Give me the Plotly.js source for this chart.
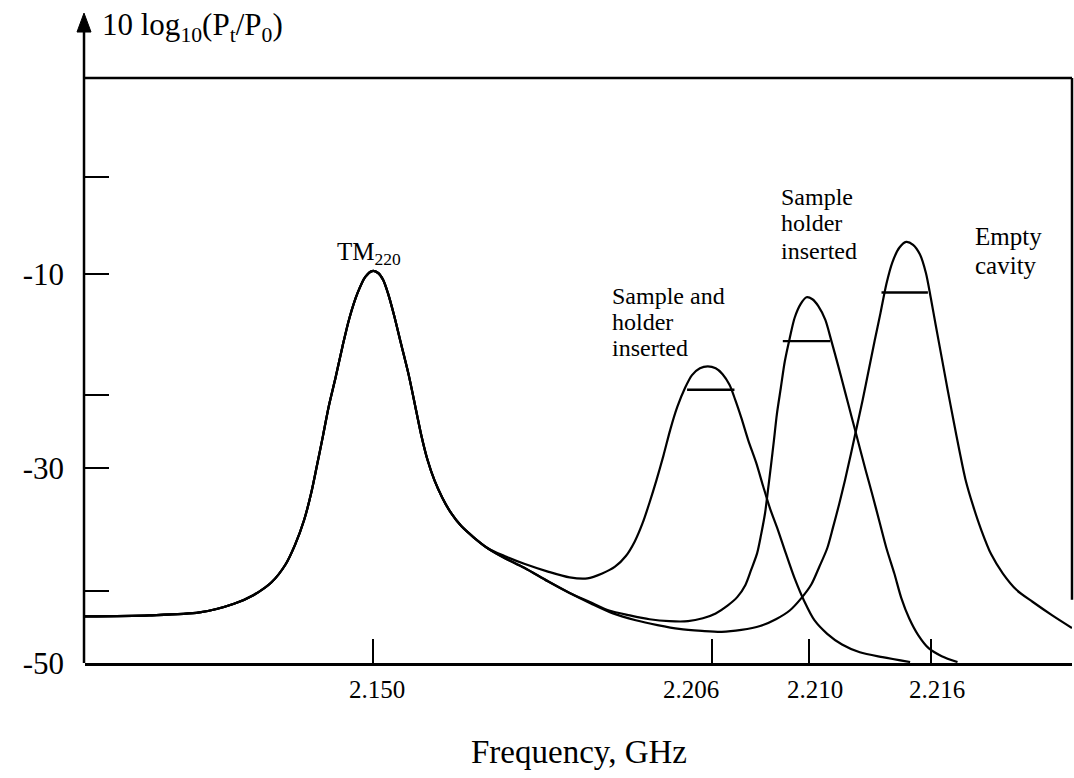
<!DOCTYPE html>
<html>
<head>
<meta charset="utf-8">
<script src="https://cdn.plot.ly/plotly-3.0.1.min.js"></script>
<style>
  html, body { margin: 0; padding: 0; background: #fff; }
  #chart { width: 1074px; height: 778px; }
</style>
</head>
<body>
<div id="chart"></div>
<script>
// Transmitted power, 10 log10(Pt/P0) in dB, against a schematic frequency scale (0-100).
// The TM220 mode is common to all three sweeps; each sweep then runs into its own resonance.
const tmX = [0, 6.5, 11.6, 15.1, 17.1, 18.9, 20.3, 21.3, 22.2, 22.9, 23.5, 24.1, 24.7, 25.4, 26.1,
             26.8, 27.6, 28.4, 29.1, 29.7, 30.2, 30.7, 31.3, 32.0, 32.8, 33.5, 34.1, 34.7, 35.4, 36.2,
             37.1, 38.1, 39.4, 40.8];
const tmY = [-45.2, -45.1, -44.8, -43.9, -43.0, -41.7, -39.9, -37.8, -35.3, -32.6, -29.7, -26.7, -23.6, -20.6, -17.4,
             -14.5, -12.0, -10.3, -9.7, -9.9, -10.6, -12.0, -14.2, -17.1, -20.4, -23.8, -26.7, -29.1, -31.2, -33.0,
             -34.6, -35.9, -37.1, -38.2];

// Sample and holder inserted (resonance at 2.206 GHz)
const sampleX = [42.5, 44.5, 46.9, 49.1, 50.9, 52.4, 53.7, 54.8, 55.7, 56.5, 57.2, 57.9, 58.6, 59.3, 60.0,
                 60.8, 61.5, 62.3, 63.1, 63.9, 64.6, 65.3, 65.9, 66.5, 67.2, 68.0, 68.7, 69.4, 70.2, 71.0,
                 71.9, 72.9, 73.9, 75.2, 76.7, 78.5, 80.8, 83.6];
const sampleY = [-39.0, -39.8, -40.6, -41.2, -41.3, -40.8, -40.1, -39.0, -37.5, -35.6, -33.5, -31.2, -28.7, -26.0, -23.7,
                 -21.7, -20.4, -19.7, -19.5, -19.7, -20.3, -21.4, -23.0, -24.8, -27.1, -29.4, -31.8, -34.1, -36.3, -38.7,
                 -41.3, -43.7, -45.6, -47.0, -48.1, -48.9, -49.4, -49.9];

// Sample holder inserted (resonance at 2.210 GHz)
const holderX = [42.5, 44.5, 46.9, 49.1, 51.1, 53.1, 55.2, 57.2, 59.2, 61.1, 62.6, 63.9, 65.1, 66.1, 66.9,
                 67.5, 68.1, 68.5, 68.9, 69.2, 69.5, 69.8, 70.1, 70.5, 70.9, 71.4, 71.9, 72.5, 73.1, 73.7,
                 74.3, 75.0, 75.6, 76.3, 77.0, 77.7, 78.4, 79.1, 79.8, 80.5, 81.2, 82.0, 82.7, 83.5, 84.4,
                 85.5, 86.8, 88.4];
const holderY = [-39.2, -40.2, -41.6, -42.8, -43.7, -44.6, -45.1, -45.5, -45.7, -45.7, -45.4, -44.9, -44.1, -43.2, -42.0,
                 -40.4, -38.7, -36.8, -34.6, -32.2, -29.7, -27.1, -24.4, -21.7, -19.0, -16.6, -14.5, -13.1, -12.4, -12.6,
                 -13.3, -14.7, -16.8, -19.4, -22.1, -24.8, -27.5, -30.2, -32.8, -35.5, -38.2, -40.8, -43.3, -45.4, -47.1,
                 -48.5, -49.3, -49.9];

// Empty cavity
const emptyX = [42.5, 44.5, 46.9, 49.1, 51.3, 53.5, 55.8, 58.0, 60.2, 62.5, 64.5, 66.5, 68.4, 70.0, 71.4,
                72.6, 73.6, 74.4, 75.2, 75.8, 76.4, 77.0, 77.6, 78.2, 78.8, 79.4, 80.0, 80.6, 81.2, 81.8,
                82.5, 83.2, 83.9, 84.6, 85.2, 85.7, 86.2, 86.8, 87.4, 88.0, 88.6, 89.2, 90.0, 90.8, 91.8,
                93.0, 94.4, 96.0, 98.0, 100.0];
const emptyY = [-39.2, -40.2, -41.6, -42.8, -43.9, -44.9, -45.6, -46.1, -46.5, -46.7, -46.8, -46.6, -46.2, -45.5, -44.6,
                -43.3, -41.9, -40.1, -38.2, -36.0, -33.7, -31.2, -28.5, -25.7, -22.9, -19.9, -16.9, -14.0, -11.0, -8.8,
                -7.3, -6.7, -7.0, -8.0, -9.9, -12.5, -15.3, -18.6, -21.9, -25.1, -28.2, -31.1, -33.9, -36.3, -38.8,
                -40.8, -42.5, -43.7, -45.1, -46.4];

// Bandwidth markers across each resonance
const sampleBandX = [61.0, 65.8], sampleBandY = [-21.9, -21.9];
const holderBandX = [70.7, 75.5], holderBandY = [-16.9, -16.9];
const emptyBandX  = [80.7, 85.4], emptyBandY  = [-11.9, -11.9];

// Axis ticks
const freqTickPos  = [29.2, 63.5, 73.4, 85.7];
const freqTickText = ['2.150', '2.206', '2.210', '2.216'];
const dbTickVals   = [-10, -30, -50];
const dbTickText   = ['-10', '-30', '-50'];
const dbPlainTicks = [0, -22.4, -42.6];

// Curve labels: text lines, left edge, y of each line
const labelSample = { lines: ['Sample and', 'holder', 'inserted'], x: 53.2, y: [-12.3, -14.9, -17.6], size: 24 };
const labelHolder = { lines: ['Sample', 'holder', 'inserted'], x: 70.3, y: [-2.1, -4.8, -7.6], size: 24 };
const labelEmpty  = { lines: ['Empty', 'cavity'], x: 90.0, y: [-6.1, -9.1], size: 25 };

const FONT = 'Liberation Serif, Times New Roman, serif';
const INK = '#000';

function curve(name, x, y) {
  return {
    type: 'scatter', mode: 'lines', name: name,
    x: tmX.concat(x), y: tmY.concat(y),
    line: { color: INK, width: 2.2, shape: 'spline', smoothing: 0.8 },
    hoverinfo: 'skip', showlegend: false
  };
}
function band(x, y) {
  return {
    type: 'scatter', mode: 'lines', x: x, y: y,
    line: { color: INK, width: 2.4 }, hoverinfo: 'skip', showlegend: false
  };
}

const data = [
  curve('Sample and holder inserted', sampleX, sampleY),
  curve('Sample holder inserted', holderX, holderY),
  curve('Empty cavity', emptyX, emptyY),
  band(sampleBandX, sampleBandY),
  band(holderBandX, holderBandY),
  band(emptyBandX, emptyBandY)
];

const annotations = [];
function addLines(lbl) {
  lbl.lines.forEach((t, i) => annotations.push({
    text: t, x: lbl.x, y: lbl.y[i], xref: 'x', yref: 'y',
    xanchor: 'left', yanchor: 'middle', showarrow: false,
    font: { family: FONT, size: lbl.size, color: INK }
  }));
}
addLines(labelSample);
addLines(labelHolder);
addLines(labelEmpty);

annotations.push({
  text: 'TM<sub>220</sub>', x: 28.8, y: -7.9, xref: 'x', yref: 'y',
  xanchor: 'center', yanchor: 'middle', showarrow: false,
  font: { family: FONT, size: 25, color: INK }
});

// Frequency tick labels, set slightly off their ticks where drawn that way
const freqLabelShift = [4, -21, 6, 6];
freqTickText.forEach((t, i) => annotations.push({
  text: t, x: freqTickPos[i], y: -0.046, xref: 'x', yref: 'paper', xshift: freqLabelShift[i],
  xanchor: 'center', yanchor: 'middle', showarrow: false,
  font: { family: FONT, size: 25, color: INK }
}));

annotations.push({
  text: 'Frequency, GHz', x: 0.5, y: -0.152, xref: 'paper', yref: 'paper',
  xanchor: 'center', yanchor: 'middle', showarrow: false,
  font: { family: FONT, size: 33, color: INK }
});
annotations.push({
  text: '10 log<sub>10</sub>(P<sub>t</sub>/P<sub>0</sub>)', x: 0.0152, y: 1.087, xref: 'paper', yref: 'paper',
  xanchor: 'left', yanchor: 'middle', showarrow: false,
  font: { family: FONT, size: 31, color: INK }
});

const frame = { color: INK, width: 2.5 };
const shapes = [
  // vertical axis with arrow
  { type: 'line', xref: 'paper', yref: 'paper', x0: -0.001, x1: -0.001, y0: 0, y1: 1.08, line: frame },
  { type: 'path', xref: 'paper', yref: 'paper',
    path: 'M -0.0081 1.0786 L 0.0061 1.0786 L -0.001 1.111 Z', fillcolor: INK, line: { color: INK, width: 1 } },
  // top and right border
  { type: 'line', xref: 'paper', yref: 'paper', x0: -0.001, x1: 1, y0: 1, y1: 1, line: frame },
  { type: 'line', xref: 'paper', yref: 'paper', x0: 1, x1: 1, y0: 1, y1: 0.108, line: frame }
];

const layout = {
  width: 1074, height: 778,
  margin: { l: 85, r: 2, t: 78, b: 115 },
  paper_bgcolor: '#fff', plot_bgcolor: '#fff',
  showlegend: false,
  font: { family: FONT, color: INK },
  xaxis: {
    range: [0, 100], fixedrange: true,
    showgrid: false, zeroline: false,
    showline: true, linecolor: INK, linewidth: 2.5,
    ticks: 'inside', ticklen: 24, tickwidth: 2, tickcolor: INK,
    tickmode: 'array', tickvals: freqTickPos, ticktext: freqTickText,
    showticklabels: false
  },
  yaxis: {
    range: [-50, 10.15], fixedrange: true,
    showgrid: false, zeroline: false, showline: false,
    ticks: 'inside', ticklen: 24, tickwidth: 2, tickcolor: INK,
    tickmode: 'array', tickvals: dbTickVals, ticktext: dbTickText,
    minor: { tickmode: 'array', tickvals: dbPlainTicks, ticks: 'inside', ticklen: 24, tickwidth: 2, tickcolor: INK, showgrid: false },
    ticklabelstandoff: 20,
    tickfont: { family: FONT, size: 31, color: INK }
  },
  shapes: shapes,
  annotations: annotations
};

Plotly.newPlot('chart', data, layout, { displayModeBar: false, staticPlot: true });
</script>
</body>
</html>
